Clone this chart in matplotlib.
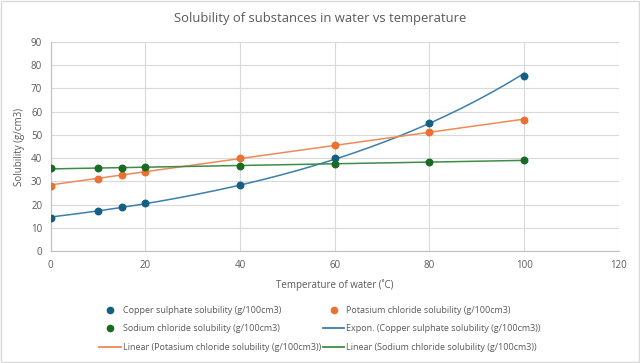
import numpy as np
import matplotlib
matplotlib.use("Agg")
import matplotlib.pyplot as plt
from matplotlib.lines import Line2D
from matplotlib.patches import Rectangle

temps = [0, 10, 15, 20, 40, 60, 80, 100]
copper = [14.3, 17.4, 18.9, 20.7, 28.5, 40.0, 55.0, 75.4]
potassium = [28.2, 31.2, 32.8, 34.2, 40.0, 45.8, 51.3, 56.3]
sodium = [35.6, 35.8, 35.9, 36.0, 36.6, 37.3, 38.4, 39.2]

labels = ["Copper sulphate solubility (g/100cm3)",
          "Potasium chloride solubility (g/100cm3)",
          "Sodium chloride solubility (g/100cm3)"]

c_blue = "#156082"
c_orange = "#E97132"
c_green = "#196B24"
t_blue = "#3A7FAE"
t_orange = "#EE8A55"
t_green = "#3E8C47"
txt = "#595959"

plt.rcParams['font.family'] = ['Open Sans', 'DejaVu Sans']

fig = plt.figure(figsize=(6.4, 3.63), dpi=100)
ax = fig.add_axes([0.079, 0.308, 0.888, 0.577])

x = np.array(temps, dtype=float)
xs = np.linspace(0, 100, 200)

# trendlines
b, a = np.polyfit(x, np.log(copper), 1)
ax.plot(xs, np.exp(a) * np.exp(b * xs), color=t_blue, lw=1.1, zorder=2)
pk = np.polyfit(x, potassium, 1)
ax.plot(xs, np.polyval(pk, xs), color=t_orange, lw=1.1, zorder=2)
pn = np.polyfit(x, sodium, 1)
ax.plot(xs, np.polyval(pn, xs), color=t_green, lw=1.1, zorder=2)

ax.scatter(temps, copper, s=22, color=c_blue, zorder=3)
ax.scatter(temps, potassium, s=22, color=c_orange, zorder=3)
ax.scatter(temps, sodium, s=22, color=c_green, zorder=3)

ax.set_xlim(0, 120)
ax.set_ylim(0, 90)
ax.set_xticks(range(0, 121, 20))
ax.set_yticks(range(0, 91, 10))
ax.grid(True, color="#D9D9D9", lw=0.8)
ax.set_axisbelow(True)
for s in ["top", "right"]:
    ax.spines[s].set_visible(False)
for s in ["left", "bottom"]:
    ax.spines[s].set_color("#BFBFBF")
ax.tick_params(length=0, labelsize=7, colors=txt, pad=6)

fig.text(0.5, 0.95, "Solubility of substances in water vs temperature", fontsize=9.4,
         color=txt, ha="center", va="center")
ax.set_xlabel("Temperature of water (˚C)", fontsize=7, color=txt, labelpad=6)
ax.set_ylabel("Solubility (g/cm3)", fontsize=7, color=txt, labelpad=4)

def mk(c):
    return Line2D([], [], ls="none", marker="o", ms=4.5, color=c)

def ln(c):
    return Line2D([], [], color=c, lw=1.3)

handles = [mk(c_blue), mk(c_green), ln(t_orange),
           mk(c_orange), ln(t_blue), ln(t_green)]
names = [labels[0], labels[2], "Linear (" + labels[1] + ")",
         labels[1], "Expon. (" + labels[0] + ")", "Linear (" + labels[2] + ")"]
fig.legend(handles, names, loc="center", bbox_to_anchor=(0.5, 0.094), ncol=2,
           frameon=False, fontsize=6.5, labelcolor=txt, handlelength=2.4,
           handletextpad=0.2, columnspacing=0.2, labelspacing=1.05,
           borderpad=0, borderaxespad=0)

fig.patches.append(Rectangle((0.002, 0.003), 0.996, 0.994, transform=fig.transFigure,
                             fill=False, edgecolor="#D9D9D9", lw=1))

fig.savefig("out.png", dpi=100, facecolor="white")
